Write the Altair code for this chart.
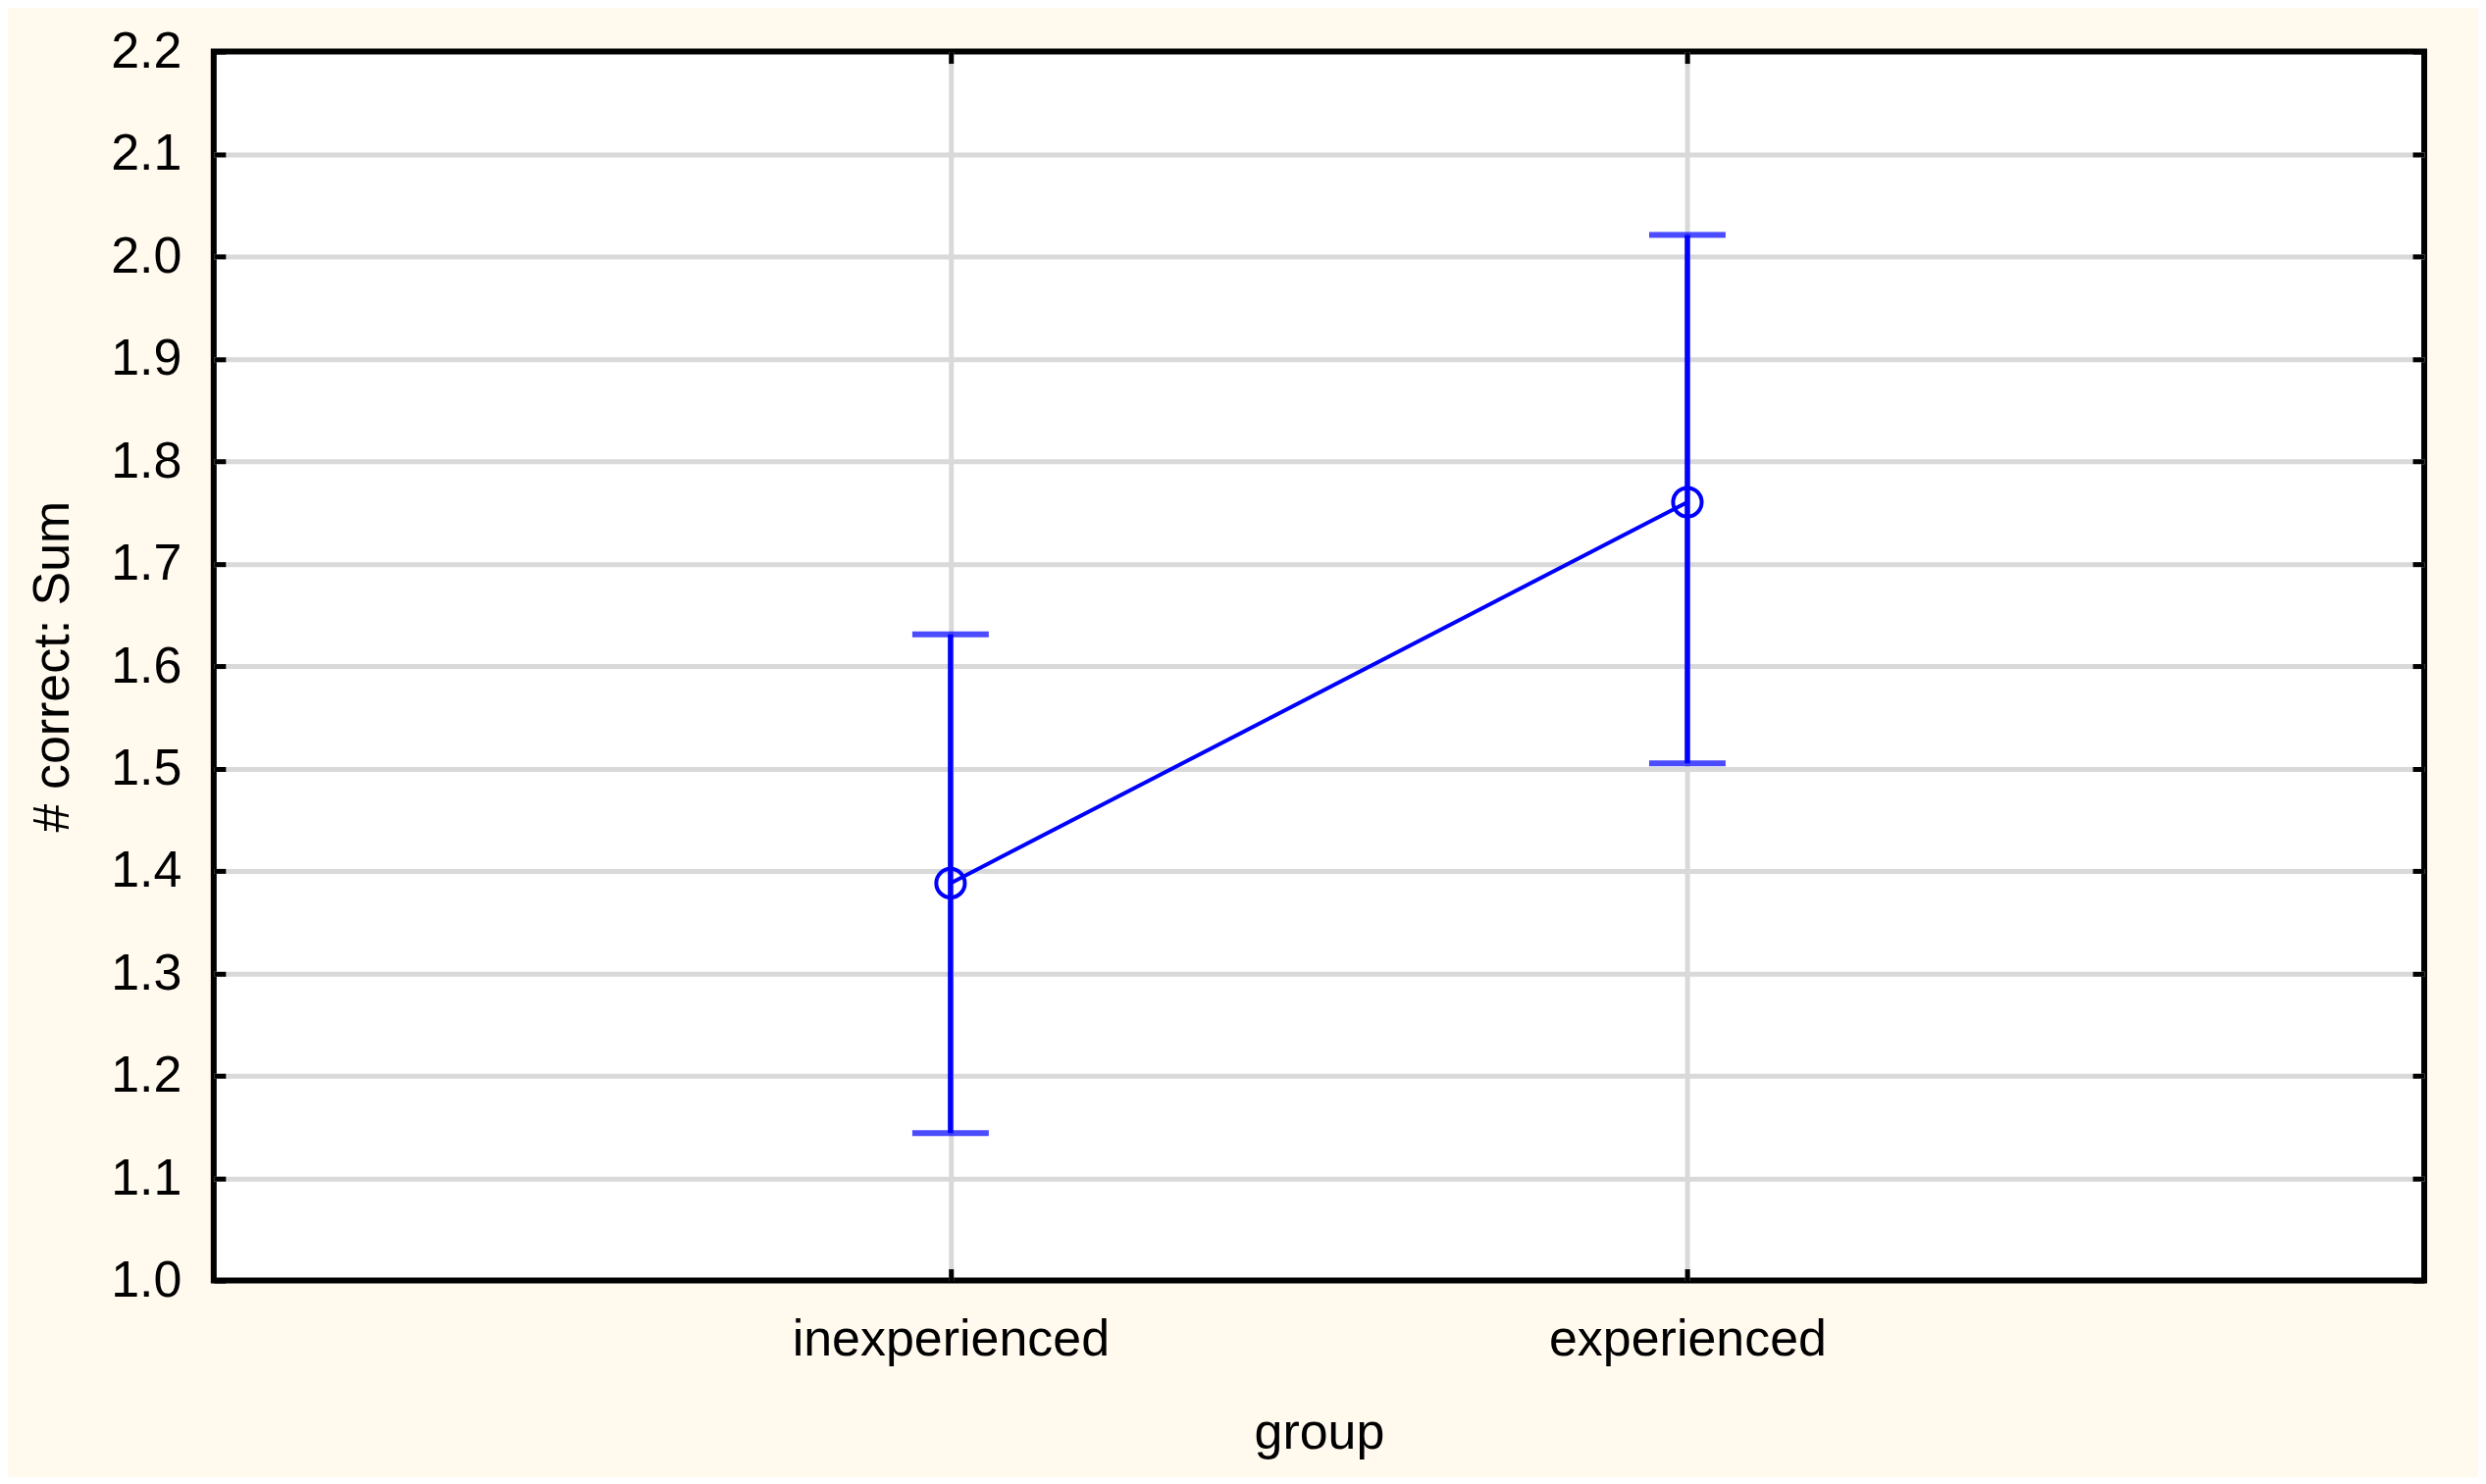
import altair as alt
import pandas as pd

# ---- data ----
groups = ["inexperienced", "experienced"]
means = [1.388, 1.760]
lower = [1.144, 1.505]
upper = [1.631, 2.021]
y_ticks = [1.0, 1.1, 1.2, 1.3, 1.4, 1.5, 1.6, 1.7, 1.8, 1.9, 2.0, 2.1, 2.2]
y_grid = [1.1, 1.2, 1.3, 1.4, 1.5, 1.6, 1.7, 1.8, 1.9, 2.0, 2.1]

df = pd.DataFrame({"group": groups, "mean": means, "lower": lower, "upper": upper})

FONT = "Liberation Sans"
BLUE = "#0000ff"
GRID = "#d9d9d9"

xscale = alt.Scale(type="point", domain=groups, padding=1)
yscale = alt.Scale(domain=[1.0, 2.2], nice=False, zero=False)

tick_common = dict(offset=-12, tickSize=12, tickWidth=5, tickColor="black", domain=False)
text_common = dict(labelFont=FONT, titleFont=FONT, labelFontSize=52, titleFontSize=52,
                   labelColor="black", titleColor="black", titleFontWeight="normal",
                   labelLimit=0)

base = alt.Chart(df)

# error bar stems (carry the top / right inward ticks)
rules = base.mark_rule(color=BLUE, strokeWidth=5.5).encode(
    x=alt.X("group:N", scale=xscale, sort=groups,
            axis=alt.Axis(orient="top", labels=False, title=None, grid=False, **tick_common)),
    y=alt.Y("lower:Q", scale=yscale,
            axis=alt.Axis(orient="right", labels=False, title=None, grid=False,
                          values=y_ticks, **tick_common)),
    y2="upper:Q",
)

# error bar caps (carry the horizontal grid, inner values only)
caps = base.transform_fold(["lower", "upper"], as_=["which", "val"]).mark_tick(
    color=BLUE, orient="horizontal", size=78, thickness=6
).encode(
    x=alt.X("group:N", scale=xscale, sort=groups, axis=None),
    y=alt.Y("val:Q", scale=yscale,
            axis=alt.Axis(orient="left", labels=False, ticks=False, domain=False, title=None,
                          grid=True, gridColor=GRID, gridWidth=5, values=y_grid)),
)

# mean line (carries the labelled bottom / left axes)
line = base.mark_line(color=BLUE, strokeWidth=4).encode(
    x=alt.X("group:N", scale=xscale, sort=groups,
            axis=alt.Axis(orient="bottom", title="group", grid=True, gridColor=GRID, gridWidth=5,
                          labelPadding=35, titlePadding=44, labelAngle=0,
                          **tick_common, **text_common)),
    y=alt.Y("mean:Q", scale=yscale,
            axis=alt.Axis(orient="left", title="# correct: Sum", grid=False,
                          values=y_ticks, format=".1f",
                          labelPadding=33, titlePadding=32,
                          **tick_common, **text_common)),
)

points = base.mark_point(shape="circle", filled=False, size=850, strokeWidth=4,
                         color=BLUE, opacity=1).encode(
    x=alt.X("group:N", scale=xscale, sort=groups, axis=None),
    y=alt.Y("mean:Q", scale=yscale, axis=None),
)

chart = alt.layer(rules, caps, line, points).resolve_axis(
    x="independent", y="independent"
).properties(
    width=2255,
    height=1254,
    autosize=alt.AutoSizeParams(type="none"),
    padding={"left": 210, "top": 44, "right": 55, "bottom": 200},
    background="#fff9ee",
).configure_view(fill="white", stroke="black", strokeWidth=6)

chart.save("out.html", embed_options={"renderer": "svg", "actions": False})
